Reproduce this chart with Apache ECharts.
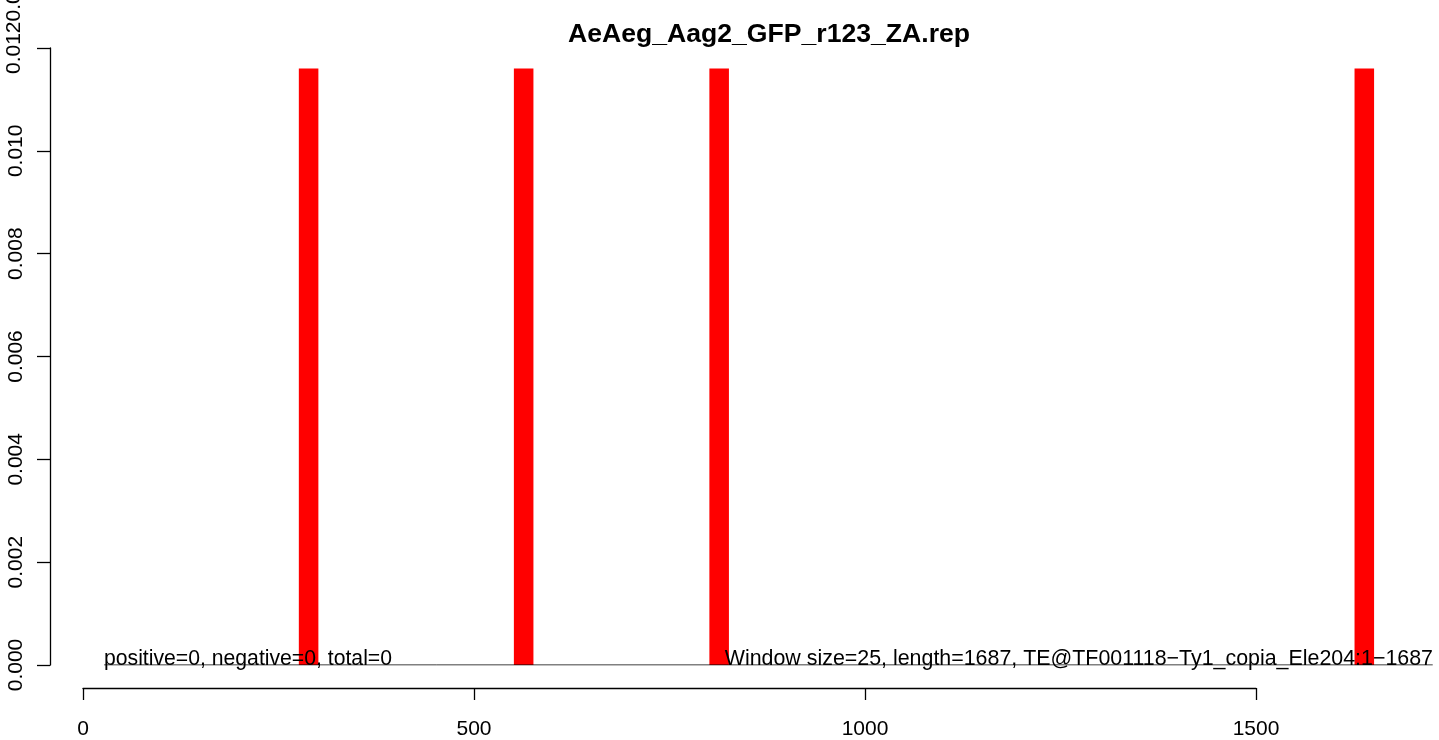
<!DOCTYPE html>
<html>
<head>
<meta charset="utf-8">
<script src="https://cdn.jsdelivr.net/npm/echarts@6/dist/echarts.min.js"></script>
<style>html,body{margin:0;padding:0;background:#fff;}#c{width:1439px;height:740px;}</style>
</head>
<body>
<div id="c"></div>
<script>
// ---- data ----
const titleText = 'AeAeg_Aag2_GFP_r123_ZA.rep';
const windowSize = 25;
const windowStarts = [276, 551, 801, 1626];
const windowValues = [0.0116, 0.0116, 0.0116, 0.0116];
const baseLineX = [27, 1726];
const xTicks = [0, 500, 1000, 1500];
const yTicks = [0.000, 0.002, 0.004, 0.006, 0.008, 0.010, 0.012];
const leftNote = 'positive=0, negative=0, total=0';
const rightNote = 'Window size=25, length=1687, TE@TF001118\u2212Ty1_copia_Ele204:1\u22121687';

const FONT = '"Liberation Sans", Arial, Helvetica, sans-serif';
const barData = windowStarts.map((s, i) => [s, s + windowSize, windowValues[i]]);

const chart = echarts.init(document.getElementById('c'), null, {renderer: 'canvas'});
chart.setOption({
  animation: false,
  backgroundColor: '#ffffff',
  title: {
    text: titleText, left: 764, top: 16, textAlign: 'center',
    textStyle: {fontFamily: FONT, fontWeight: 'bold', fontSize: 26.6, color: '#000'}
  },
  grid: [
    {left: 0, right: 0, top: 48, bottom: 75},
    {left: 50, width: 10, top: 48, bottom: 75},
    {left: 83, right: 183, top: 687, height: 1}
  ],
  xAxis: [
    {gridIndex: 0, type: 'value', min: -83 / 0.782, max: 1356 / 0.782, show: false},
    {gridIndex: 1, type: 'value', min: 0, max: 1, show: false},
    {gridIndex: 2, type: 'value', min: 0, max: 1500, interval: 500, position: 'bottom',
     axisLine: {show: true, lineStyle: {color: '#000', width: 1.3}},
     axisTick: {show: true, inside: false, length: 12, lineStyle: {color: '#000', width: 1.3}},
     splitLine: {show: false},
     axisLabel: {show: true, margin: 31, color: '#000', fontSize: 21, fontFamily: FONT,
                 formatter: v => xTicks.indexOf(v) >= 0 ? String(v) : ''}}
  ],
  yAxis: [
    {gridIndex: 0, type: 'value', min: 0, max: 0.012, show: false},
    {gridIndex: 1, type: 'value', min: 0, max: 0.012, interval: 0.002, position: 'left',
     axisLine: {show: true, lineStyle: {color: '#000', width: 1.3}},
     axisTick: {show: true, length: 13, lineStyle: {color: '#000', width: 1.3}},
     splitLine: {show: false},
     axisLabel: {show: true, rotate: 90, margin: 23, color: '#000', fontSize: 21, fontFamily: FONT,
                 formatter: v => {
                   const t = yTicks.find(y => Math.abs(y - v) < 1e-9);
                   if (t === undefined) return '';
                   if (Math.abs(t - 0.012) < 1e-9) return '';
                   return t.toFixed(3);
                 }}},
    {gridIndex: 2, type: 'value', show: false}
  ],
  series: [
    {
      type: 'custom', xAxisIndex: 0, yAxisIndex: 0, clip: false,
      data: barData,
      renderItem: (params, api) => {
        const p0 = api.coord([api.value(0), 0]);
        const p1 = api.coord([api.value(1), api.value(2)]);
        return {type: 'rect',
          shape: {x: p0[0], y: p1[1], width: p1[0] - p0[0], height: p0[1] - p1[1]},
          style: {fill: '#ff0000'}};
      }
    },
    {
      type: 'line', xAxisIndex: 0, yAxisIndex: 0, symbol: 'none', silent: true, z: 3,
      data: baseLineX.map(x => [x, 0]),
      lineStyle: {color: '#000', width: 1}
    }
  ],
  graphic: [
    {type: 'text', left: 104, top: 649, z: 10,
     style: {text: leftNote, fill: '#000', font: '21.2px ' + FONT}},
    {type: 'text', right: 6, top: 649, z: 10,
     style: {text: rightNote, fill: '#000', font: '21.4px ' + FONT}},
    {type: 'text', x: 14, y: 74, rotation: Math.PI / 2, z: 10,
     style: {text: '0.0120.012', fill: '#000', font: '21px ' + FONT, align: 'left', verticalAlign: 'middle'}}
  ]
});
</script>
</body>
</html>
